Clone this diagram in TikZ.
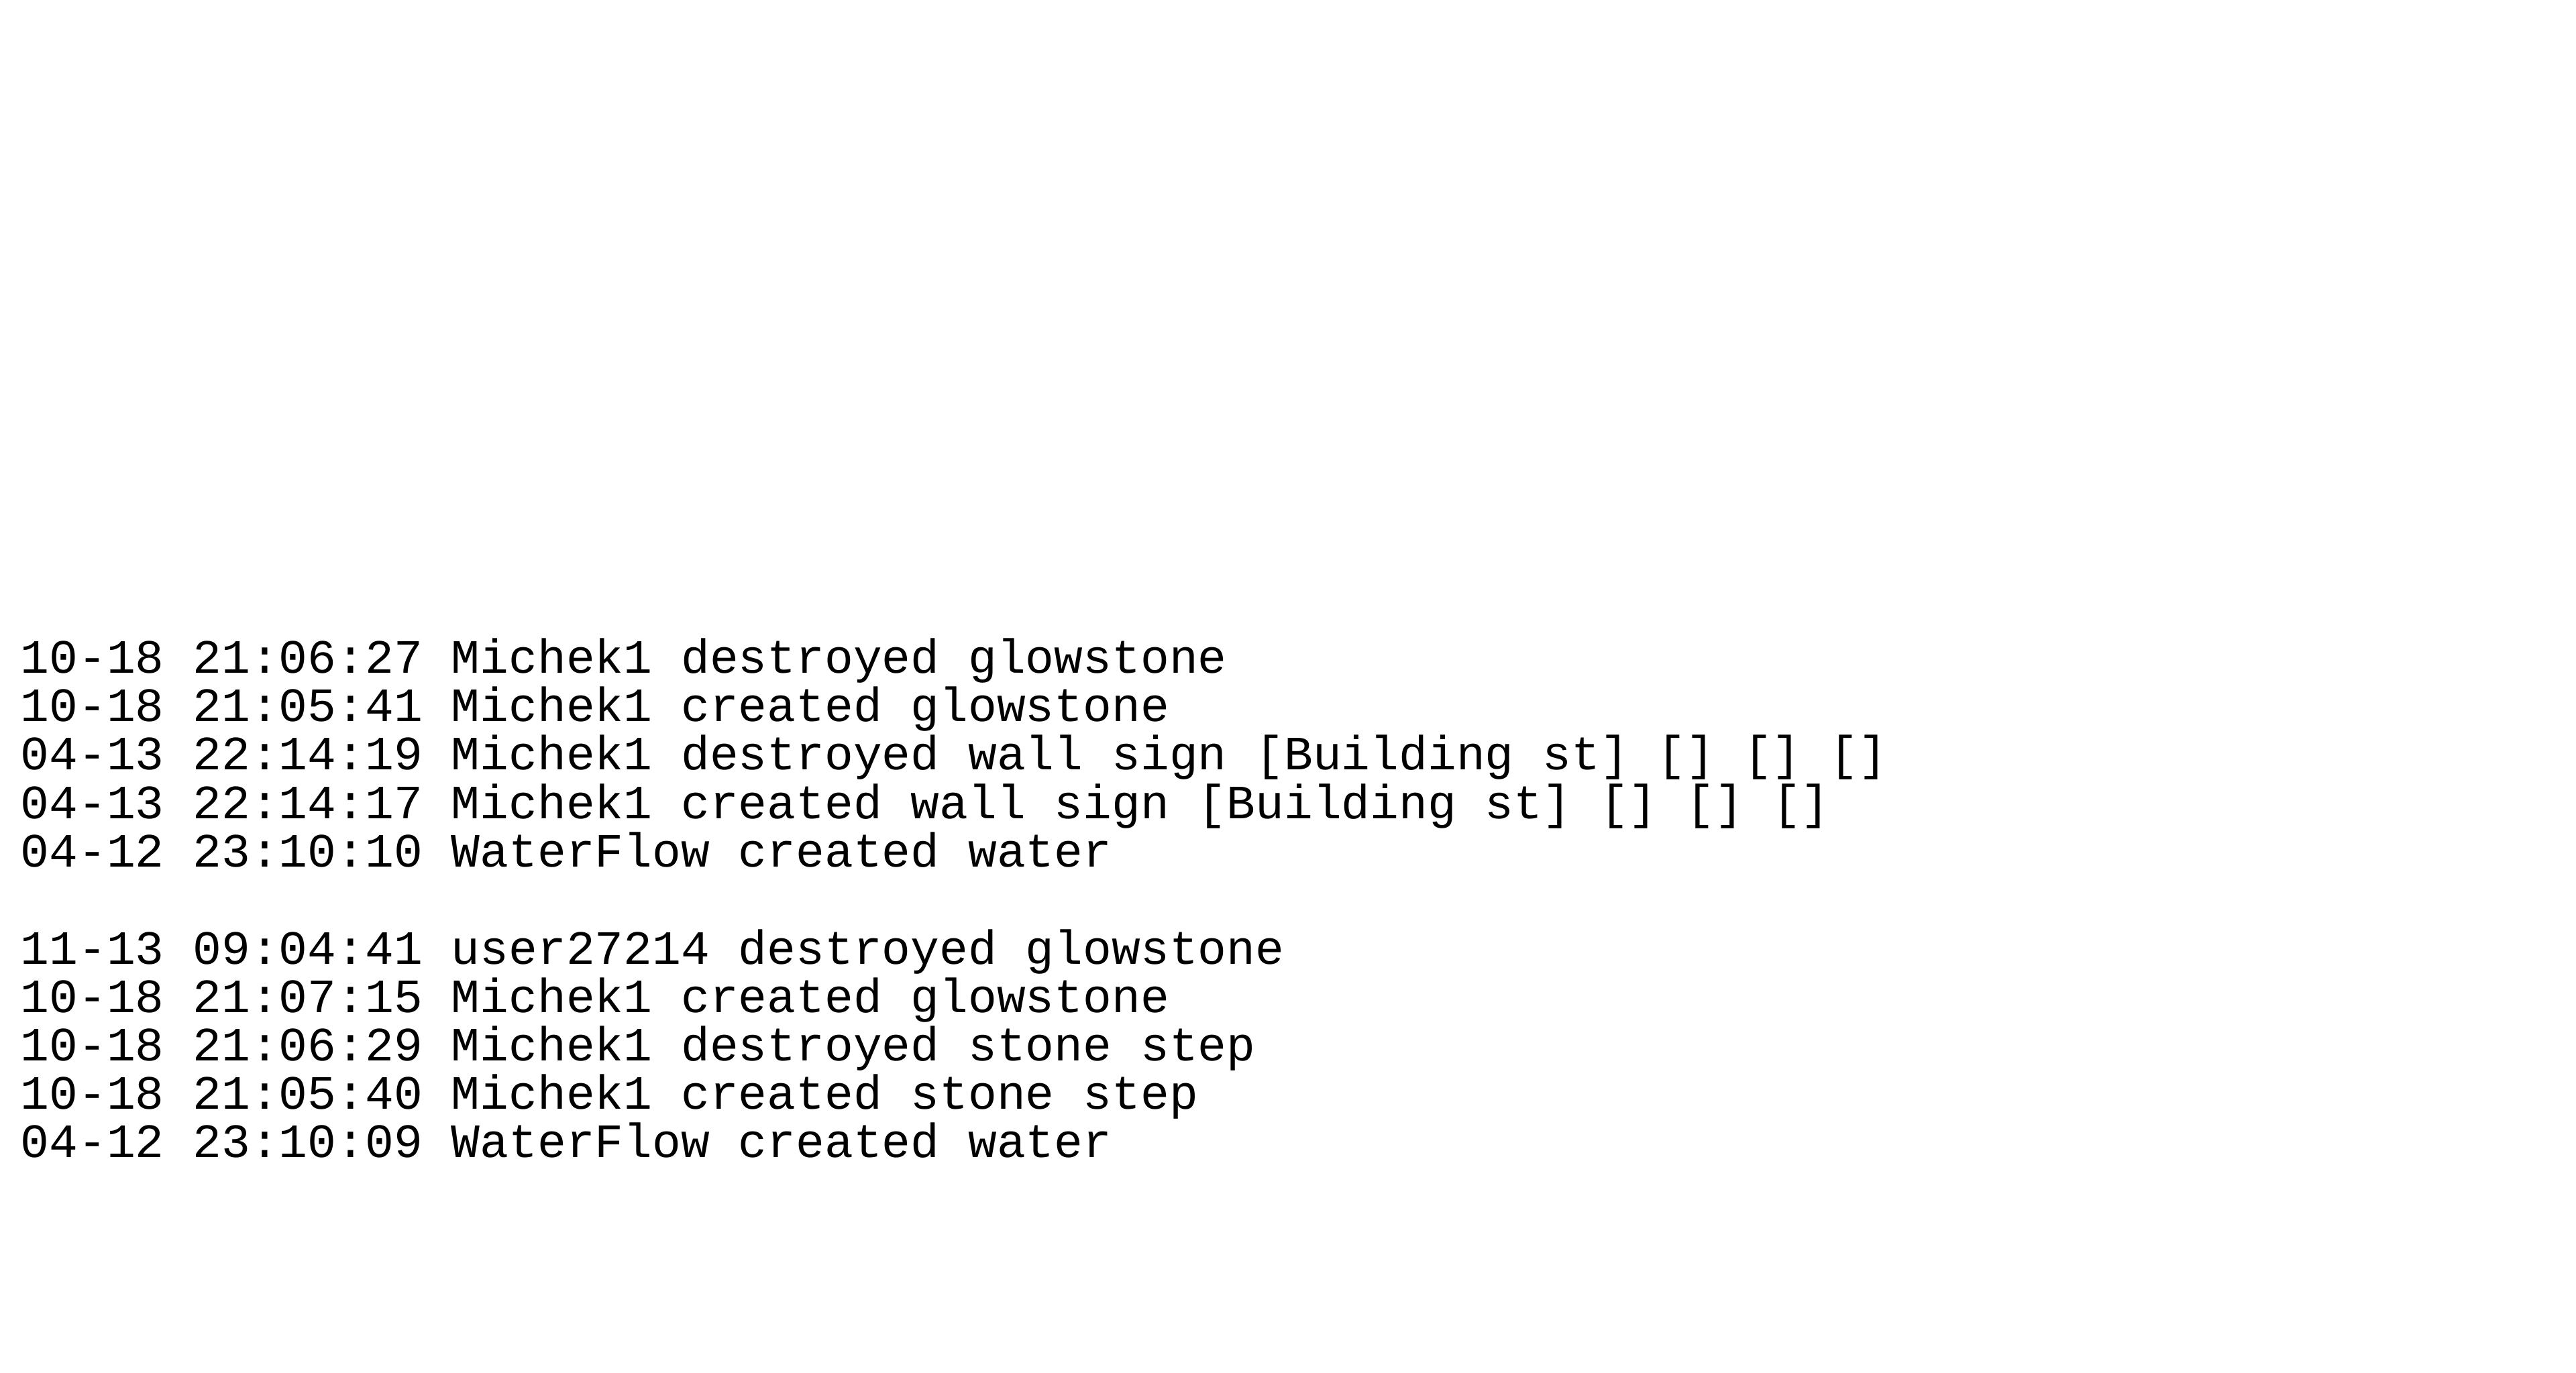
\documentclass[tikz,border=0pt]{standalone}
\usepackage{fontspec}
\setmonofont{Liberation Mono}
\begin{document}
\begin{tikzpicture}[line/.style={anchor=base west,inner sep=0pt,font=\ttfamily\fontsize{20.3}{22}\selectfont}]
\useasboundingbox[fill=white] (0,0) rectangle (38.4,20.46);
\node[line] (l1) at (0.3,10.42) {10-18 21:06:27 Michek1 destroyed glowstone};
\node[line] (l2) at (0.3,9.70) {10-18 21:05:41 Michek1 created glowstone};
\node[line] (l3) at (0.3,8.98) {04-13 22:14:19 Michek1 destroyed wall sign [Building st] [] [] []};
\node[line] (l4) at (0.3,8.26) {04-13 22:14:17 Michek1 created wall sign [Building st] [] [] []};
\node[line] (l5) at (0.3,7.54) {04-12 23:10:10 WaterFlow created water};
\node[line] (l6) at (0.3,6.09) {11-13 09:04:41 user27214 destroyed glowstone};
\node[line] (l7) at (0.3,5.37) {10-18 21:07:15 Michek1 created glowstone};
\node[line] (l8) at (0.3,4.65) {10-18 21:06:29 Michek1 destroyed stone step};
\node[line] (l9) at (0.3,3.93) {10-18 21:05:40 Michek1 created stone step};
\node[line] (l10) at (0.3,3.21) {04-12 23:10:09 WaterFlow created water};
\end{tikzpicture}
\end{document}
